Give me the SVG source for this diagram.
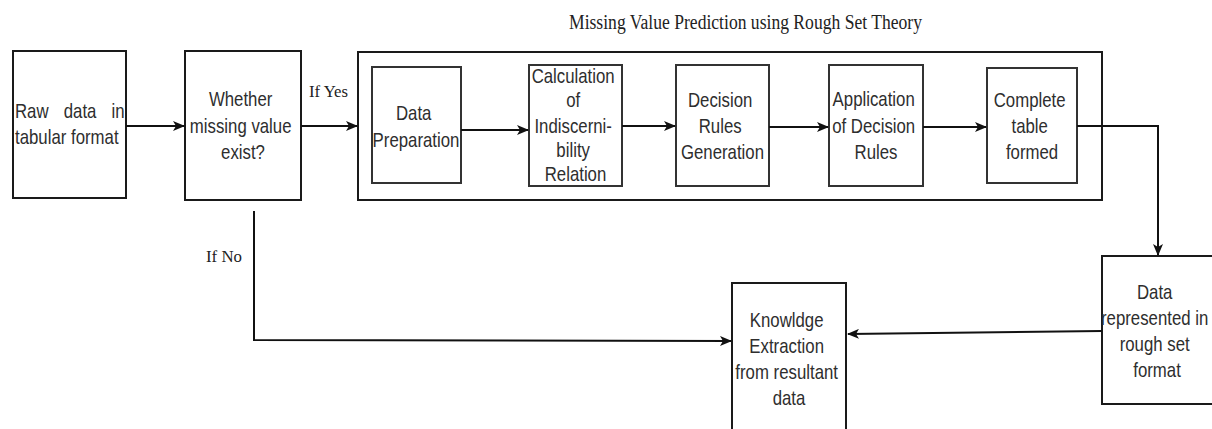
<svg xmlns="http://www.w3.org/2000/svg" width="1212" height="429" viewBox="0 0 1212 429">
  <style>
    .box { fill: #ffffff; stroke: #1a1a1a; stroke-width: 2; }
    .inner { fill: #ffffff; stroke: #333333; stroke-width: 2; }
    .edge { fill: none; stroke: #111111; stroke-width: 2; }
    .lbl { font-family: "Liberation Sans", Arial, sans-serif; font-size: 20px; fill: #2e2e2e; text-anchor: middle; }
    .lbl-l { font-family: "Liberation Sans", Arial, sans-serif; font-size: 20px; fill: #2e2e2e; }
    .serif { font-family: "Liberation Serif", "Times New Roman", serif; fill: #222222; }
  </style>
  <defs>
    <marker id="arrow" viewBox="0 0 12 10" refX="11" refY="5" markerWidth="12" markerHeight="10" markerUnits="userSpaceOnUse" orient="auto">
      <path d="M0,0 L12,5 L0,10 L3,5 Z" fill="#111111"/>
    </marker>
  </defs>

  <!-- heading of the rough-set stage -->
  <text class="serif" x="569" y="29" font-size="20" textLength="353" lengthAdjust="spacingAndGlyphs">Missing Value Prediction using Rough Set Theory</text>

  <!-- container for the rough-set stage -->
  <g id="rough-set-stage">
    <rect class="box" x="358" y="52" width="744" height="148"/>
  </g>

  <g id="raw-data">
    <rect class="box" x="13" y="51" width="113" height="147"/>
    <g class="lbl-l" transform="translate(15,0) scale(0.84,1)">
      <text x="0" y="118">Raw</text>
      <text x="58" y="118">data</text>
      <text x="115" y="118">in</text>
      <text x="0" y="144">tabular format</text>
    </g>
  </g>

  <g id="missing-check">
    <rect class="box" x="185" y="51" width="116" height="149"/>
    <text class="lbl" transform="translate(243,0) scale(0.84,1)">
      <tspan x="0" y="106">Whether</tspan>
      <tspan x="0" y="133">missing value</tspan>
      <tspan x="0" y="159">exist?</tspan>
    </text>
  </g>

  <g id="data-preparation">
    <rect class="inner" x="372" y="67" width="89" height="116"/>
    <text class="lbl" transform="translate(416,0) scale(0.84,1)">
      <tspan x="0" y="120">Data</tspan>
      <tspan x="0" y="147">Preparation</tspan>
    </text>
  </g>

  <g id="indiscernibility">
    <rect class="inner" x="529" y="65" width="93" height="121"/>
    <text class="lbl" transform="translate(575.5,0) scale(0.84,1)">
      <tspan x="0" y="83">Calculation</tspan>
      <tspan x="0" y="107">of</tspan>
      <tspan x="0" y="133">Indiscerni-</tspan>
      <tspan x="0" y="157">bility</tspan>
      <tspan x="0" y="181">Relation</tspan>
    </text>
  </g>

  <g id="rules-generation">
    <rect class="inner" x="676" y="65" width="93" height="121"/>
    <text class="lbl" transform="translate(722.5,0) scale(0.84,1)">
      <tspan x="0" y="107">Decision</tspan>
      <tspan x="0" y="133">Rules</tspan>
      <tspan x="0" y="159">Generation</tspan>
    </text>
  </g>

  <g id="rules-application">
    <rect class="inner" x="829" y="65" width="94" height="121"/>
    <text class="lbl" transform="translate(876,0) scale(0.84,1)">
      <tspan x="0" y="106">Application</tspan>
      <tspan x="0" y="133">of Decision</tspan>
      <tspan x="0" y="159">Rules</tspan>
    </text>
  </g>

  <g id="complete-table">
    <rect class="inner" x="987" y="68" width="90" height="115"/>
    <text class="lbl" transform="translate(1032,0) scale(0.84,1)">
      <tspan x="0" y="107">Complete</tspan>
      <tspan x="0" y="133">table</tspan>
      <tspan x="0" y="159">formed</tspan>
    </text>
  </g>

  <g id="rough-set-format">
    <rect class="box" x="1102" y="256" width="112" height="148"/>
    <text class="lbl" transform="translate(1157,0) scale(0.84,1)">
      <tspan x="0" y="299">Data</tspan>
      <tspan x="0" y="325">represented in</tspan>
      <tspan x="0" y="351">rough set</tspan>
      <tspan x="0" y="377">format</tspan>
    </text>
  </g>

  <g id="knowledge-extraction">
    <rect class="box" x="732" y="283" width="114" height="150"/>
    <text class="lbl" transform="translate(789,0) scale(0.84,1)">
      <tspan x="0" y="327">Knowldge</tspan>
      <tspan x="0" y="353">Extraction</tspan>
      <tspan x="0" y="379">from resultant</tspan>
      <tspan x="0" y="405">data</tspan>
    </text>
  </g>

  <!-- connectors -->
  <g id="connectors">
    <path class="edge" d="M126,126 L184,126" marker-end="url(#arrow)"/>
    <path class="edge" d="M301,126 L357,126" marker-end="url(#arrow)"/>
    <path class="edge" d="M461,130 L528,130" marker-end="url(#arrow)"/>
    <path class="edge" d="M622,126 L675,126" marker-end="url(#arrow)"/>
    <path class="edge" d="M769,127 L828,127" marker-end="url(#arrow)"/>
    <path class="edge" d="M923,127 L986,127" marker-end="url(#arrow)"/>
    <path class="edge" d="M1077,126 L1158,126 L1158,255" marker-end="url(#arrow)"/>
    <path class="edge" d="M1102,331 L848,334" marker-end="url(#arrow)"/>
    <path class="edge" d="M254,211 L254,340 L731,341" marker-end="url(#arrow)"/>
    <text class="serif" x="309" y="97" font-size="17" textLength="39" lengthAdjust="spacingAndGlyphs">If Yes</text>
    <text class="serif" x="206" y="262" font-size="17" textLength="36" lengthAdjust="spacingAndGlyphs">If No</text>
  </g>
</svg>
